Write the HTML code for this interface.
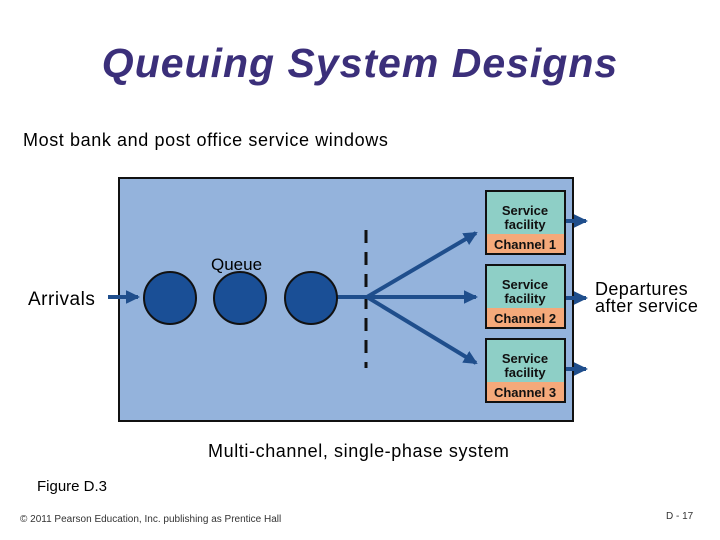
<!DOCTYPE html>
<html><head><style>
body{margin:0;width:720px;height:540px;background:#fff;position:relative;font-family:"Liberation Sans",sans-serif;overflow:hidden}
.t{position:absolute;white-space:nowrap}
</style></head><body>
<div class="t" style="left:0;width:720px;top:40px;text-align:center;font-size:41px;font-weight:bold;font-style:italic;color:#3b2f7a;letter-spacing:1px">Queuing System Designs</div>
<div class="t" style="left:23px;top:130px;font-size:18px;letter-spacing:0.6px">Most bank and post office service windows</div>
<svg width="720" height="540" style="position:absolute;left:0;top:0">
<defs><marker id="a" markerWidth="4" markerHeight="4" refX="3" refY="2" orient="auto"><path d="M0,0.3L3.5,2L0,3.7z" fill="#1f4e8c"/></marker></defs>
<rect x="119" y="178" width="454" height="243" fill="#94b3dc" stroke="#111" stroke-width="2"/>
<line x1="366" y1="230" x2="366" y2="368" stroke="#111" stroke-width="3" stroke-dasharray="13,9"/>
<g stroke="#1f4e8c" stroke-width="4" fill="none" marker-end="url(#a)">
<line x1="108" y1="297" x2="138" y2="297"/>
<line x1="337" y1="297" x2="476" y2="297"/>
<line x1="367" y1="297" x2="476" y2="233"/>
<line x1="367" y1="297" x2="476" y2="363"/>
<line x1="566" y1="221" x2="586" y2="221"/>
<line x1="566" y1="298" x2="586" y2="298"/>
<line x1="566" y1="369" x2="586" y2="369"/>
</g>
<g fill="#1a4f96" stroke="#111" stroke-width="2">
<circle cx="170" cy="298" r="26"/><circle cx="240" cy="298" r="26"/><circle cx="311" cy="298" r="26"/>
</g>
<g stroke="#111" stroke-width="2">
<rect x="486" y="191" width="79" height="63" fill="#8ecfc6"/><rect x="487" y="234" width="77" height="19" fill="#f5a97a" stroke="none"/>
<rect x="486" y="265" width="79" height="63" fill="#8ecfc6"/><rect x="487" y="308" width="77" height="19" fill="#f5a97a" stroke="none"/>
<rect x="486" y="339" width="79" height="63" fill="#8ecfc6"/><rect x="487" y="382" width="77" height="19" fill="#f5a97a" stroke="none"/>
</g>
<g font-family="Liberation Sans" font-size="13" font-weight="bold" text-anchor="middle" fill="#111">
<text x="525" y="215">Service</text><text x="525" y="229">facility</text><text x="525" y="249">Channel 1</text>
<text x="525" y="289">Service</text><text x="525" y="303">facility</text><text x="525" y="323">Channel 2</text>
<text x="525" y="363">Service</text><text x="525" y="377">facility</text><text x="525" y="397">Channel 3</text>
</g>
</svg>
<div class="t" style="left:211px;top:255px;font-size:17px">Queue</div>
<div class="t" style="left:28px;top:289px;font-size:19px;letter-spacing:0.5px">Arrivals</div>
<div class="t" style="left:595px;top:281px;font-size:18px;line-height:17px;letter-spacing:0.4px">Departures<br>after service</div>
<div class="t" style="left:208px;top:441px;font-size:18px;letter-spacing:0.6px">Multi-channel, single-phase system</div>
<div class="t" style="left:37px;top:478px;font-size:15px">Figure D.3</div>
<div class="t" style="left:20px;top:514px;font-size:10px;color:#333">© 2011 Pearson Education, Inc. publishing as Prentice Hall</div>
<div class="t" style="left:666px;top:511px;font-size:10px;color:#333">D - 17</div>
</body></html>
